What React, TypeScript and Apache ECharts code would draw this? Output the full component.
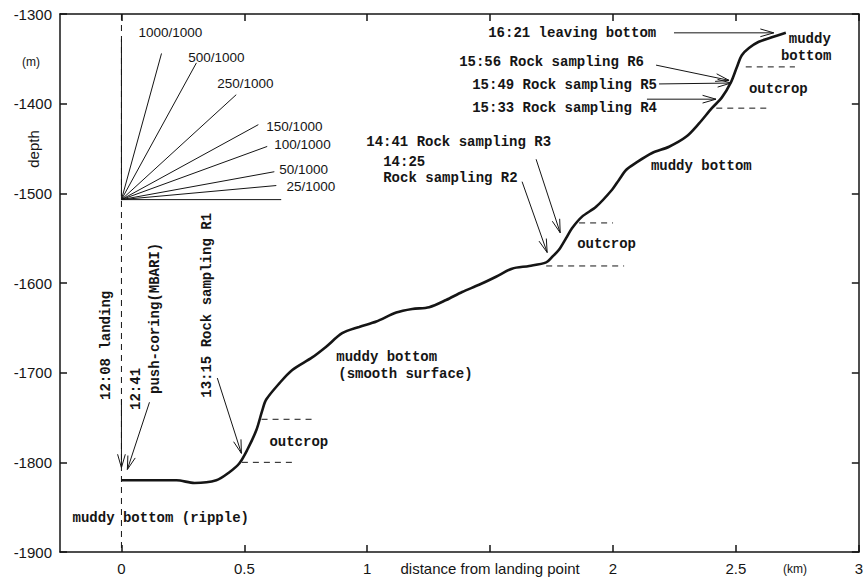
import React, { useEffect, useRef } from "react";
import * as echarts from "echarts";

// ---- profile of the dive track (distance km, depth m)
const profileX = [0, 0.224, 0.297, 0.386, 0.439, 0.48, 0.512, 0.549, 0.573, 0.589, 0.642, 0.695, 0.776, 0.833, 0.898, 0.967, 1.037, 1.118, 1.183, 1.252, 1.321, 1.386, 1.455, 1.524, 1.589, 1.659, 1.728, 1.752, 1.78, 1.809, 1.833, 1.874, 1.931, 1.996, 2.024, 2.053, 2.093, 2.159, 2.228, 2.297, 2.35, 2.402, 2.443, 2.48, 2.504, 2.524, 2.553, 2.593, 2.646, 2.703];
const profileY = [-1820, -1820, -1823, -1820, -1811, -1801, -1786, -1764, -1742, -1730, -1712, -1697, -1683, -1671, -1656, -1649, -1643, -1633, -1629, -1627, -1619, -1610, -1602, -1593, -1584, -1581, -1577, -1571, -1563, -1550, -1539, -1526, -1515, -1496, -1485, -1474, -1466, -1455, -1448, -1437, -1422, -1405, -1393, -1376, -1359, -1346, -1338, -1331, -1326, -1321];

// ---- axis ticks
const xTickValues = [0, 0.5, 1, 1.5, 2, 2.5, 3];
const yTickValues = [-1900, -1800, -1700, -1600, -1500, -1400, -1300];

// ---- arrows [x1, y1, x2(tip), y2(tip)]
const arrowSegments = [
  [0, -1730, 0, -1806],
  [0.114, -1733, 0.024, -1808],
  [0.39, -1706, 0.488, -1790],
  [1.63, -1487, 1.732, -1566],
  [1.687, -1462, 1.785, -1544],
  [2.138, -1395, 2.419, -1395],
  [2.187, -1378, 2.48, -1377],
  [2.175, -1357, 2.472, -1374],
  [2.248, -1321, 2.654, -1321],
];

// ---- dashed guide segments [x1, y1, x2, y2]
const dashedSegments = [
  [0, -1300, 0, -1900],
  [0.49, -1800, 0.7, -1800],
  [0.57, -1752, 0.79, -1752],
  [1.728, -1581, 2.045, -1581],
  [1.862, -1533, 2.0, -1533],
  [2.42, -1405, 2.64, -1405],
  [2.54, -1359, 2.74, -1359],
];

// ---- gradient fan
const fanOrigin = [0, -1507];
const fanLabels = ["1000/1000", "500/1000", "250/1000", "150/1000", "100/1000", "50/1000", "25/1000"];
const fanEndX = [0, 0.163, 0.305, 0.467, 0.557, 0.593, 0.622, 0.63, 0.65];
const fanEndY = [-1328, -1344, -1354.5, -1390, -1423.4, -1447.7, -1475.9, -1491.3, -1507];
const fanLabelX = [0.069, 0.272, 0.39, 0.589, 0.622, 0.642, 0.671];
const fanLabelY = [-1321, -1348, -1377, -1425, -1446, -1473, -1492];

// ---- annotation texts
const noteTexts = [
  "16:21 leaving bottom",
  "15:56 Rock sampling R6",
  "15:49 Rock sampling R5",
  "15:33 Rock sampling R4",
  "14:41 Rock sampling R3",
  "14:25",
  "Rock sampling R2",
  "muddy bottom",
  "muddy",
  "bottom",
  "outcrop",
  "outcrop",
  "outcrop",
  "muddy bottom",
  "(smooth surface)",
  "muddy bottom (ripple)",
  "12:08 landing",
  "12:41",
  "push-coring(MBARI)",
  "13:15 Rock sampling R1",
];
const noteX = [1.492, 1.374, 1.427, 1.427, 0.996, 1.065, 1.065, 2.154, 2.715, 2.683, 2.553, 1.854, 0.602, 0.874, 0.882, -0.199, -0.061, 0.061, 0.138, 0.35];
const noteY = [-1321, -1353.5, -1379, -1405, -1443, -1465, -1483, -1469.5, -1328, -1347, -1384, -1556.5, -1777, -1682.5, -1701.5, -1862, -1730.5, -1741.6, -1723.8, -1728];
const noteVertical = [false, false, false, false, false, false, false, false, false, false, false, false, false, false, false, false, true, true, true, true];

const INK = "#151515";
const MONO = 'bold 14px "Liberation Mono", "DejaVu Sans Mono", monospace';
const SANS = '"Liberation Sans", Arial, Helvetica, sans-serif';

export default function App() {
  const ref = useRef<HTMLDivElement>(null);

  useEffect(() => {
    if (!ref.current) return;
    const chart = echarts.init(ref.current, undefined, { renderer: "svg" });

    const segRender = (dash: number[] | null, width: number) => (params: any, api: any) => {
      const p1 = api.coord([api.value(0), api.value(1)]);
      const p2 = api.coord([api.value(2), api.value(3)]);
      return {
        type: "line",
        shape: { x1: p1[0], y1: p1[1], x2: p2[0], y2: p2[1] },
        style: { stroke: INK, lineWidth: width, lineDash: dash || undefined },
      };
    };

    const arrowRender = (params: any, api: any) => {
      const p1 = api.coord([api.value(0), api.value(1)]);
      const p2 = api.coord([api.value(2), api.value(3)]);
      const ang = Math.atan2(p2[1] - p1[1], p2[0] - p1[0]);
      const L = 14;
      const w = 0.28;
      const b1 = [p2[0] - L * Math.cos(ang - w), p2[1] - L * Math.sin(ang - w)];
      const b2 = [p2[0] - L * Math.cos(ang + w), p2[1] - L * Math.sin(ang + w)];
      return {
        type: "group",
        children: [
          { type: "line", shape: { x1: p1[0], y1: p1[1], x2: p2[0], y2: p2[1] }, style: { stroke: INK, lineWidth: 1 } },
          { type: "polyline", shape: { points: [b1, p2, b2] }, style: { stroke: INK, fill: null, lineWidth: 1 } },
        ],
      };
    };

    const fanData = fanEndX.map((x, i) => [fanOrigin[0], fanOrigin[1], x, fanEndY[i]]);

    const noteRender = (params: any, api: any) => {
      const p = api.coord([api.value(0), api.value(1)]);
      const i = params.dataIndex;
      return {
        type: "text",
        x: p[0],
        y: p[1],
        rotation: noteVertical[i] ? Math.PI / 2 : 0,
        style: { text: noteTexts[i], fill: INK, font: MONO, align: "left", verticalAlign: "middle" },
      };
    };

    const fanLabelRender = (params: any, api: any) => {
      const p = api.coord([api.value(0), api.value(1)]);
      const i = params.dataIndex;
      return {
        type: "text",
        x: p[0],
        y: p[1],
        style: { text: fanLabels[i], fill: INK, font: `13.5px ${SANS}`, align: "left", verticalAlign: "middle" },
      };
    };

    const axisLineStyle = { show: true, onZero: false, lineStyle: { color: INK, width: 1.5 } };
    const tickStyle = { show: true, inside: true, length: 7, lineStyle: { color: INK, width: 1.5 } };

    chart.setOption({
      animation: false,
      backgroundColor: "#ffffff",
      grid: { left: 60, right: 6, top: 14, bottom: 27, containLabel: false },
      xAxis: [
        {
          type: "value",
          min: -0.25,
          max: 3,
          position: "bottom",
          axisLine: axisLineStyle,
          axisTick: { ...tickStyle, customValues: xTickValues },
          splitLine: { show: false },
          axisLabel: {
            customValues: xTickValues,
            margin: 9,
            color: INK,
            fontFamily: SANS,
            fontSize: 15,
            formatter: (v: number) => (Math.abs(v - 1.5) < 1e-6 ? "distance from landing point" : String(v)),
          },
        },
        {
          type: "value",
          min: -0.25,
          max: 3,
          position: "top",
          axisLine: axisLineStyle,
          axisTick: { ...tickStyle, customValues: xTickValues },
          splitLine: { show: false },
          axisLabel: { show: false },
        },
      ],
      yAxis: [
        {
          type: "value",
          min: -1900,
          max: -1300,
          interval: 100,
          position: "left",
          axisLine: axisLineStyle,
          axisTick: { ...tickStyle, customValues: yTickValues },
          splitLine: { show: false },
          axisLabel: { color: INK, fontFamily: SANS, fontSize: 15, margin: 8, formatter: (v: number) => String(v) },
        },
        {
          type: "value",
          min: -1900,
          max: -1300,
          interval: 100,
          position: "right",
          axisLine: axisLineStyle,
          axisTick: { ...tickStyle, customValues: yTickValues },
          splitLine: { show: false },
          axisLabel: { show: false },
        },
      ],
      graphic: [
        { type: "text", x: 31, y: 62, style: { text: "(m)", font: `12px ${SANS}`, fill: INK, align: "center", verticalAlign: "middle" } },
        { type: "text", x: 33, y: 149, rotation: Math.PI / 2, style: { text: "depth", font: `15px ${SANS}`, fill: INK, align: "center", verticalAlign: "middle" } },
        { type: "text", x: 795, y: 569, style: { text: "(km)", font: `12px ${SANS}`, fill: INK, align: "center", verticalAlign: "middle" } },
      ],
      series: [
        {
          type: "custom",
          name: "dashed",
          coordinateSystem: "cartesian2d",
          renderItem: segRender([6, 5], 1),
          encode: { x: [0, 2], y: [1, 3] },
          data: dashedSegments,
          clip: false,
          silent: true,
          z: 2,
        },
        {
          type: "custom",
          name: "fan",
          coordinateSystem: "cartesian2d",
          renderItem: segRender(null, 1),
          encode: { x: [0, 2], y: [1, 3] },
          data: fanData,
          silent: true,
          z: 3,
        },
        {
          type: "custom",
          name: "fanLabels",
          coordinateSystem: "cartesian2d",
          renderItem: fanLabelRender,
          encode: { x: 0, y: 1 },
          data: fanLabelX.map((x, i) => [x, fanLabelY[i]]),
          silent: true,
          z: 4,
        },
        {
          type: "custom",
          name: "arrows",
          coordinateSystem: "cartesian2d",
          renderItem: arrowRender,
          encode: { x: [0, 2], y: [1, 3] },
          data: arrowSegments,
          silent: true,
          z: 4,
        },
        {
          type: "custom",
          name: "notes",
          coordinateSystem: "cartesian2d",
          renderItem: noteRender,
          encode: { x: 0, y: 1 },
          data: noteX.map((x, i) => [x, noteY[i]]),
          clip: false,
          silent: true,
          z: 5,
        },
        {
          type: "line",
          name: "profile",
          data: profileX.map((x, i) => [x, profileY[i]]),
          showSymbol: false,
          symbol: "none",
          smooth: 0.3,
          lineStyle: { color: INK, width: 2.6 },
          z: 6,
        },
      ],
    });

    return () => chart.dispose();
  }, []);

  return <div ref={ref} style={{ position: "absolute", left: 0, top: 0, width: 866, height: 579 }} />;
}
